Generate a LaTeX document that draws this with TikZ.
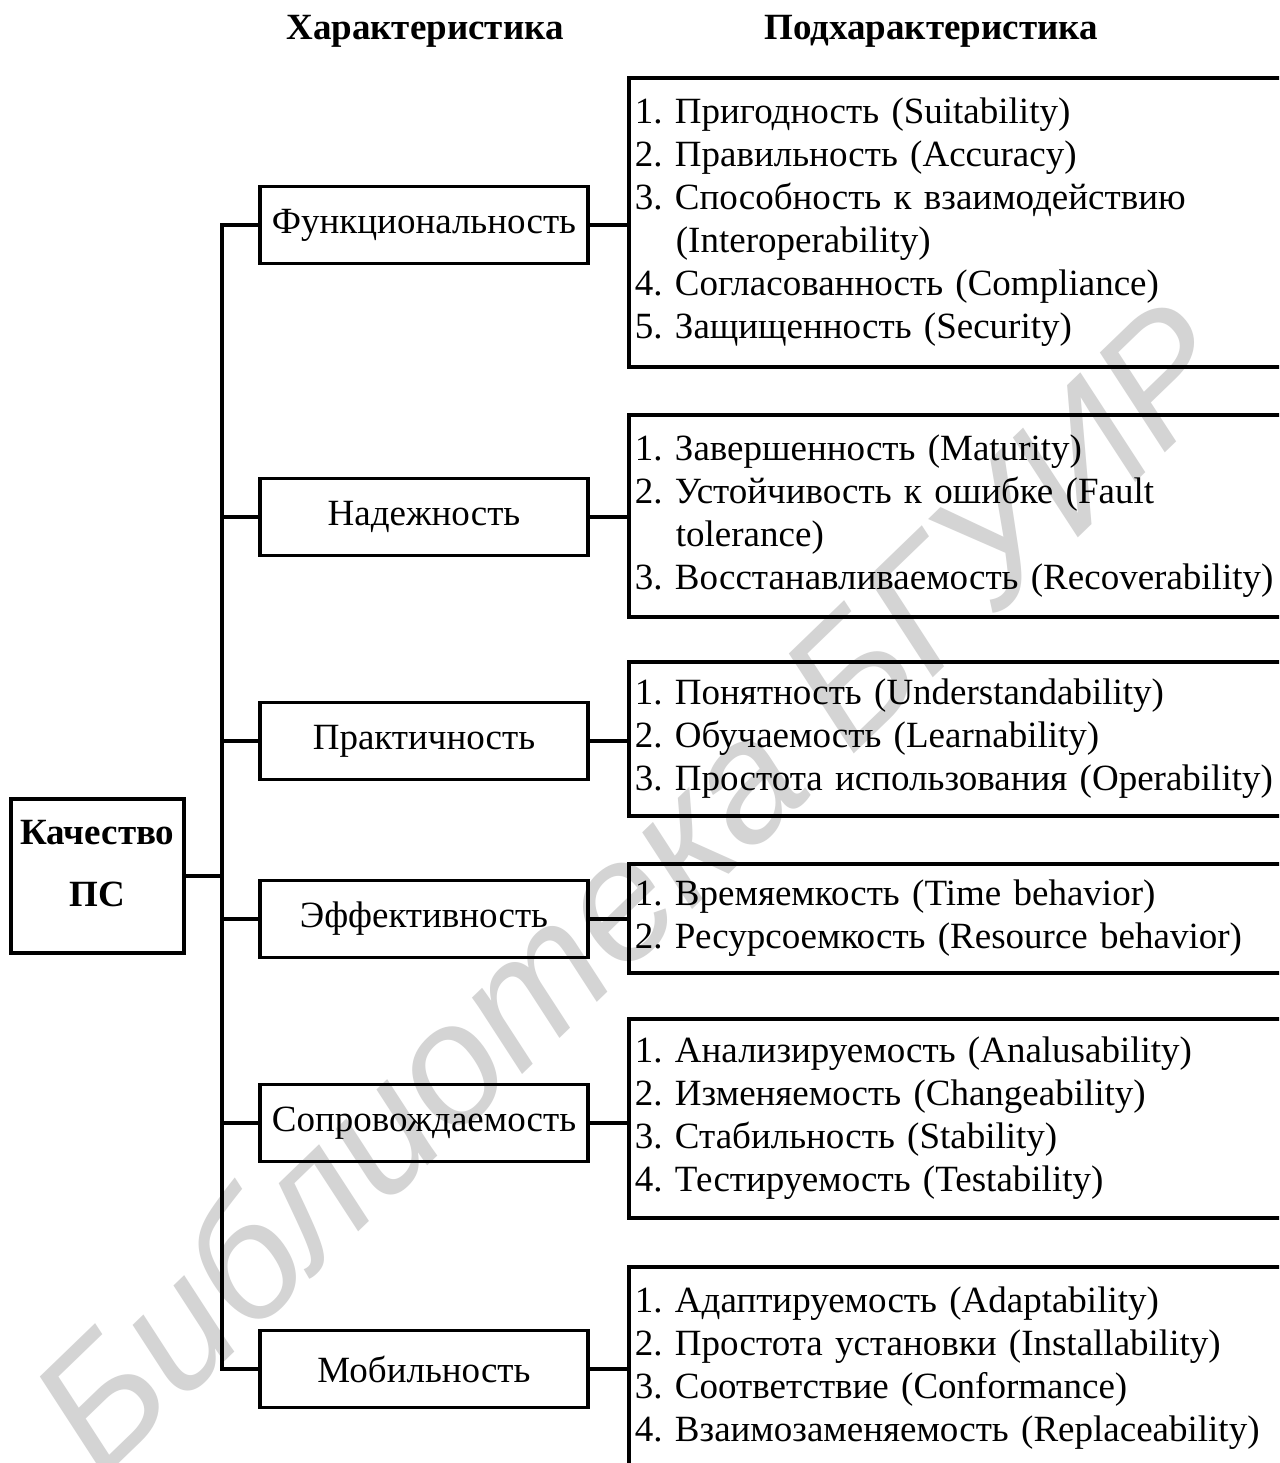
\documentclass[tikz,border=0pt]{standalone}
\usepackage{fontspec}
\setmainfont{Liberation Serif}
\newfontfamily\wmfont{Liberation Sans}
\frenchspacing
\begin{document}
\begin{tikzpicture}[x=1pt,y=-1pt,
  txt/.style={font=\fontsize{37}{43}\selectfont\frenchspacing},
  charbox/.style={draw, line width=3.3pt, minimum width=328pt, minimum height=77pt, inner sep=0pt, txt},
  subbox/.style={draw, line width=3.8pt, anchor=west, text width=645pt, align=left, inner xsep=6pt, inner ysep=0pt, txt},
  hdr/.style={font=\fontsize{37}{43}\selectfont\bfseries},
  link/.style={line width=3.3pt}]
\useasboundingbox (0,0) rectangle (1279,1463);
\clip (0,0) rectangle (1279,1463);
\fill[white] (0,0) rectangle (1279,1463);
% watermark
\node[rotate=44, font=\fontsize{170}{170}\selectfont\wmfont\itshape, text=black!17] (wm) at (630,885) {Библиотека БГУИР};
% headers
\node[hdr] (h1) at (425,31) {Характеристика};
\node[hdr] (h2) at (931,31) {Подхарактеристика};
% root
\node[draw, line width=3.3pt, minimum width=173pt, minimum height=154pt, inner sep=0pt] (root) at (97.5,876) {};
\node[align=center, inner sep=0pt, font=\fontsize{37}{62}\selectfont\bfseries] (rootlbl) at (97.5,864) {Качество\\ПС};
% characteristics
\node[charbox] (c1) at (424,225) {Функциональность};
\node[charbox] (c2) at (424,517) {Надежность};
\node[charbox] (c3) at (424,741) {Практичность};
\node[charbox] (c4) at (424,919) {Эффективность};
\node[charbox] (c5) at (424,1123) {Сопровождаемость};
\node[charbox] (c6) at (424,1369) {Мобильность};
% sub-characteristics
\node[subbox, minimum height=289pt] (s1) at (627,222.5) {1. Пригодность (Suitability)\\
2. Правильность (Accuracy)\\
3. Способность к взаимодействию\\
\hspace*{41pt}(Interoperability)\\
4. Согласованность (Compliance)\\
5. Защищенность (Security)};
\node[subbox, minimum height=202pt] (s2) at (627,516) {1. Завершенность (Maturity)\\
2. Устойчивость к ошибке (Fault\\
\hspace*{41pt}tolerance)\\
3. Восстанавливаемость (Recoverability)};
\node[subbox, minimum height=154pt] (s3) at (627,739) {1. Понятность (Understandability)\\
2. Обучаемость (Learnability)\\
3. Простота использования (Operability)};
\node[subbox, minimum height=109pt] (s4) at (627,918.5) {1. Времяемкость (Time behavior)\\
2. Ресурсоемкость (Resource behavior)};
\node[subbox, minimum height=199pt] (s5) at (627,1118.5) {1. Анализируемость (Analusability)\\
2. Изменяемость (Changeability)\\
3. Стабильность (Stability)\\
4. Тестируемость (Testability)};
\node[subbox, minimum height=202pt] (s6) at (627,1368) {1. Адаптируемость (Adaptability)\\
2. Простота установки (Installability)\\
3. Соответствие (Conformance)\\
4. Взаимозаменяемость (Replaceability)};
% trunk
\coordinate (T) at (222,0);
\draw[link] (c1.west) -- (c1.west -| T) -- (c6.west -| T) -- (c6.west);
\draw[link] (c2.west) -- (c2.west -| T);
\draw[link] (c3.west) -- (c3.west -| T);
\draw[link] (c4.west) -- (c4.west -| T);
\draw[link] (c5.west) -- (c5.west -| T);
\draw[link] (root.east) -- (root.east -| T);
% char -> sub
\draw[link] (c1.east) -- (c1.east -| s1.west);
\draw[link] (c2.east) -- (c2.east -| s2.west);
\draw[link] (c3.east) -- (c3.east -| s3.west);
\draw[link] (c4.east) -- (c4.east -| s4.west);
\draw[link] (c5.east) -- (c5.east -| s5.west);
\draw[link] (c6.east) -- (c6.east -| s6.west);
\end{tikzpicture}
\end{document}
